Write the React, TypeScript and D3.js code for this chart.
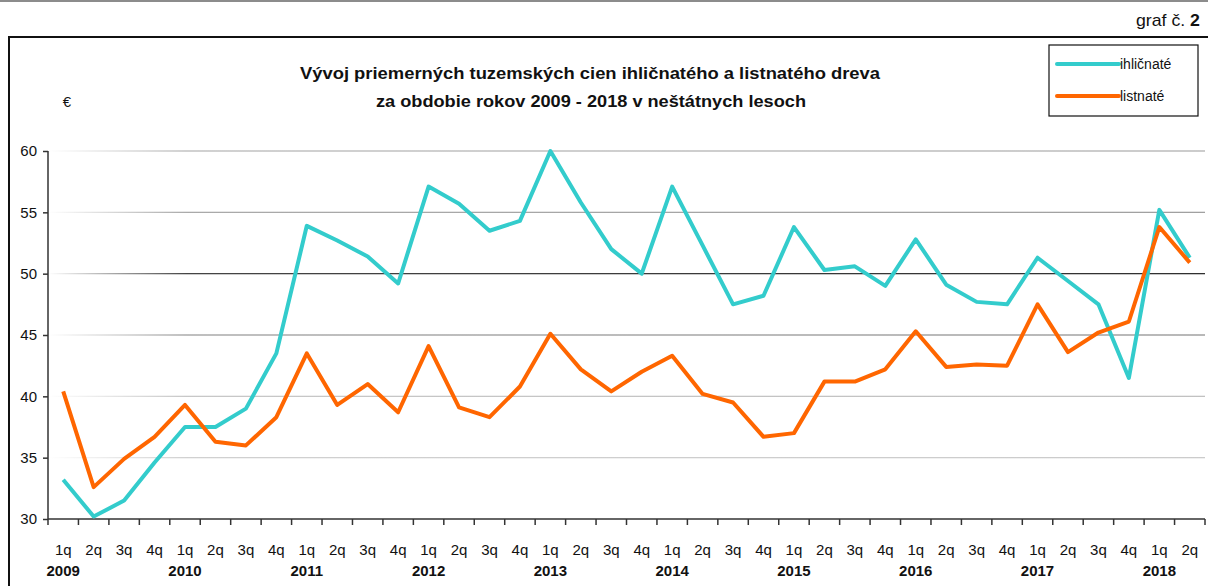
import React, { useEffect, useRef } from "react";
import * as d3 from "d3";

const years = ["2009", "2010", "2011", "2012", "2013", "2014", "2015", "2016", "2017", "2018"];
const quarters = ["1q", "2q", "3q", "4q"];

// priemerné ceny, € (odčítané z grafu)
const ihlicnate = [
  33.2, 30.2, 31.5, 34.6,
  37.5, 37.5, 39.0, 43.5,
  53.9, 52.7, 51.4, 49.2,
  57.1, 55.7, 53.5, 54.3,
  60.0, 55.8, 52.0, 50.0,
  57.1, 52.3, 47.5, 48.2,
  53.8, 50.3, 50.6, 49.0,
  52.8, 49.1, 47.7, 47.5,
  51.3, 49.4, 47.5, 41.5,
  55.2, 51.3,
];
const listnate = [
  40.4, 32.6, 34.9, 36.7,
  39.3, 36.3, 36.0, 38.3,
  43.5, 39.3, 41.0, 38.7,
  44.1, 39.1, 38.3, 40.8,
  45.1, 42.2, 40.4, 42.0,
  43.3, 40.2, 39.5, 36.7,
  37.0, 41.2, 41.2, 42.2,
  45.3, 42.4, 42.6, 42.5,
  47.5, 43.6, 45.2, 46.1,
  53.8, 50.9,
];
const yTicks = [30, 35, 40, 45, 50, 55, 60];
const gridColors = { 35: "#c8c8c8", 40: "#bdbdbd", 45: "#8a8a8a", 50: "#222", 55: "#9a9a9a", 60: "#aaa" };

const periods = years
  .flatMap((y) => quarters.map((q) => ({ year: y, q })))
  .slice(0, ihlicnate.length);

const width = 1208;
const height = 586;
const margin = { top: 151, right: 3, bottom: 67, left: 48 };
const font = "'Liberation Sans', Arial, sans-serif";

export default function App() {
  const ref = useRef<SVGSVGElement>(null);

  useEffect(() => {
    const svg = d3.select(ref.current);
    svg.selectAll("*").remove();

    const x = d3
      .scaleBand<number>()
      .domain(periods.map((d, i) => i))
      .range([margin.left, width - margin.right]);
    const y = d3
      .scaleLinear()
      .domain([30, 60])
      .range([height - margin.bottom, margin.top]);

    // page decorations
    svg.append("line").attr("x1", 0).attr("x2", width).attr("y1", 1).attr("y2", 1)
      .attr("stroke", "#666").attr("stroke-width", 1.5);
    svg.append("line").attr("x1", 8).attr("x2", width).attr("y1", 37).attr("y2", 37)
      .attr("stroke", "#111").attr("stroke-width", 2);
    svg.append("line").attr("x1", 9).attr("x2", 9).attr("y1", 37).attr("y2", height)
      .attr("stroke", "#111").attr("stroke-width", 2);
    const graf = svg.append("text").attr("x", 1200).attr("y", 26).attr("text-anchor", "end")
      .attr("font-family", font).attr("font-size", 17).attr("fill", "#111")
      .attr("textLength", 64).attr("lengthAdjust", "spacingAndGlyphs");
    graf.append("tspan").text("graf č. ");
    graf.append("tspan").attr("font-weight", "bold").text("2");

    // title
    const title = svg.append("g").attr("font-family", font).attr("font-weight", "bold")
      .attr("font-size", 17).attr("fill", "#111").attr("text-anchor", "middle");
    title.append("text").attr("x", 590).attr("y", 79)
      .attr("textLength", 580).attr("lengthAdjust", "spacingAndGlyphs")
      .text("Vývoj priemerných tuzemských cien ihličnatého a listnatého dreva");
    title.append("text").attr("x", 591).attr("y", 107)
      .attr("textLength", 430).attr("lengthAdjust", "spacingAndGlyphs")
      .text("za obdobie rokov 2009 - 2018 v neštátnych lesoch");
    svg.append("text").attr("x", 67).attr("y", 107).attr("text-anchor", "middle")
      .attr("font-family", font).attr("font-size", 15).attr("fill", "#111").text("€");

    // gridlines with fade at the left
    const defs = svg.append("defs");
    yTicks.filter((t) => t > 30).forEach((t) => {
      const g = defs.append("linearGradient").attr("id", `grid${t}`)
        .attr("gradientUnits", "userSpaceOnUse")
        .attr("x1", margin.left).attr("x2", width - margin.right).attr("y1", 0).attr("y2", 0);
      g.append("stop").attr("offset", 0).attr("stop-color", gridColors[t]).attr("stop-opacity", 0);
      g.append("stop").attr("offset", 0.12).attr("stop-color", gridColors[t]).attr("stop-opacity", 0.9);
      g.append("stop").attr("offset", 1).attr("stop-color", gridColors[t]).attr("stop-opacity", 1);
      svg.append("rect")
        .attr("x", margin.left).attr("width", width - margin.right - margin.left)
        .attr("y", y(t) - 0.6).attr("height", 1.2)
        .attr("fill", `url(#grid${t})`);
    });

    // y axis
    const yAxis = svg.append("g").attr("transform", `translate(${margin.left},0)`)
      .call(d3.axisLeft(y).tickValues(yTicks).tickSize(5).tickPadding(6));
    yAxis.selectAll("path, line").attr("stroke", "#333").attr("stroke-width", 1.5);
    yAxis.select(".domain").attr("d", `M0,${y(30)}V${y(60)}`);
    yAxis.selectAll("text").attr("font-family", font).attr("font-size", 15).attr("fill", "#111");

    // x axis: ticks at category boundaries
    const xg = svg.append("g");
    xg.append("line").attr("x1", margin.left).attr("x2", width - margin.right)
      .attr("y1", y(30)).attr("y2", y(30)).attr("stroke", "#333").attr("stroke-width", 1.5);
    const bounds = periods.map((d, i) => x(i)!).concat([x(periods.length - 1)! + x.bandwidth()]);
    xg.selectAll(".tick").data(bounds).join("line")
      .attr("x1", (d) => d).attr("x2", (d) => d)
      .attr("y1", y(30)).attr("y2", y(30) + 6)
      .attr("stroke", "#333").attr("stroke-width", 1.5);
    xg.selectAll(".qlab").data(periods).join("text")
      .attr("x", (d, i) => x(i)! + x.bandwidth() / 2)
      .attr("y", 555).attr("text-anchor", "middle")
      .attr("font-family", font).attr("font-size", 15).attr("fill", "#111")
      .text((d) => d.q);
    xg.selectAll(".ylab").data(periods.filter((d) => d.q === "1q")).join("text")
      .attr("x", (d) => x(periods.indexOf(d))! + x.bandwidth() / 2)
      .attr("y", 576).attr("text-anchor", "middle")
      .attr("font-family", font).attr("font-size", 15).attr("font-weight", "bold")
      .attr("fill", "#111")
      .text((d) => d.year);

    // lines
    const line = d3.line<number>()
      .x((d, i) => x(i)! + x.bandwidth() / 2)
      .y((d) => y(d));
    svg.append("path").datum(ihlicnate).attr("d", line)
      .attr("fill", "none").attr("stroke", "#33CCCC").attr("stroke-width", 4)
      .attr("stroke-linejoin", "round");
    svg.append("path").datum(listnate).attr("d", line)
      .attr("fill", "none").attr("stroke", "#FF6600").attr("stroke-width", 4)
      .attr("stroke-linejoin", "round");

    // legend
    const lg = svg.append("g");
    lg.append("rect").attr("x", 1049).attr("y", 45).attr("width", 149).attr("height", 71)
      .attr("fill", "#fff").attr("stroke", "#111").attr("stroke-width", 1.2);
    const items = [
      { name: "ihličnaté", color: "#33CCCC", yy: 64 },
      { name: "listnaté", color: "#FF6600", yy: 96 },
    ];
    items.forEach((it) => {
      lg.append("line").attr("x1", 1057).attr("x2", 1119).attr("y1", it.yy).attr("y2", it.yy)
        .attr("stroke", it.color).attr("stroke-width", 4).attr("stroke-linecap", "round");
      lg.append("text").attr("x", 1120).attr("y", it.yy + 5)
        .attr("font-family", font).attr("font-size", 14).attr("fill", "#111").text(it.name);
    });
  }, []);

  return (
    <svg
      ref={ref}
      width={width}
      height={height}
      style={{ position: "absolute", left: 0, top: 0, background: "#fff" }}
    />
  );
}
